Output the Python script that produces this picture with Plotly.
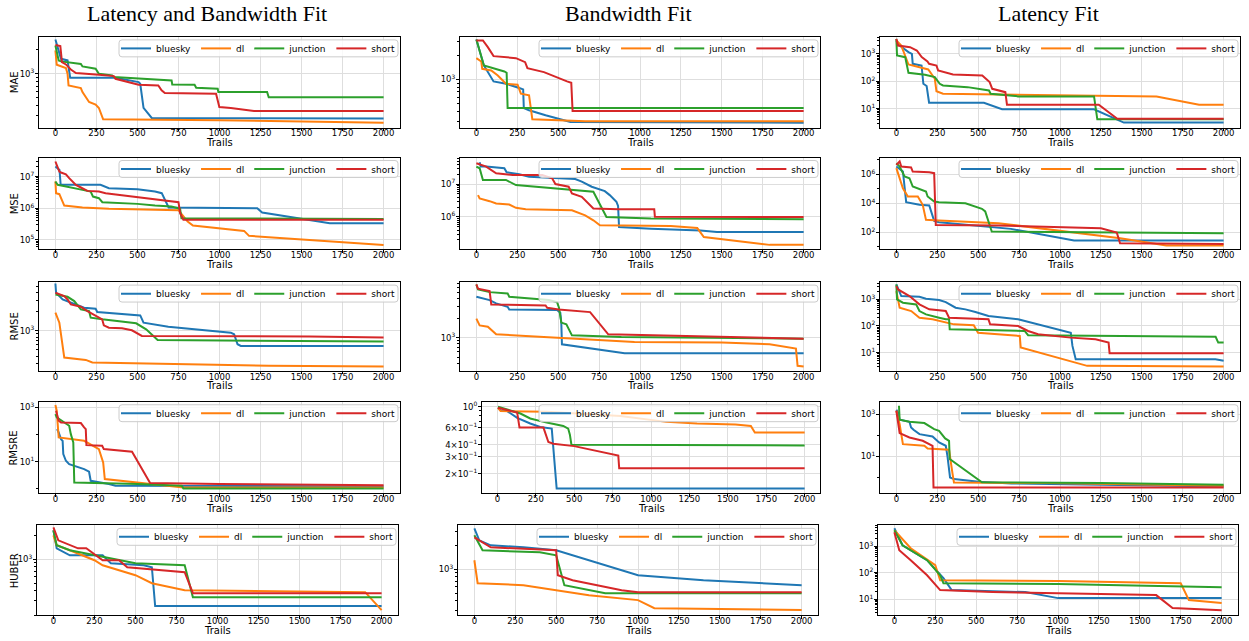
import math
import plotly.graph_objects as go

W, H = 1249, 641
SERIES = ["bluesky", "dl", "junction", "short"]
COLORS = {"bluesky": "#1f77b4", "dl": "#ff7f0e", "junction": "#2ca02c", "short": "#d62728"}
COL_TITLES = ["Latency and Bandwidth Fit", "Bandwidth Fit", "Latency Fit"]
METRICS = ["MAE", "MSE", "RMSE", "RMSRE", "HUBER"]
X_TICKS = [0, 250, 500, 750, 1000, 1250, 1500, 1750, 2000]

# ---------------- data (trial index, best-so-far loss) ----------------
LB_MAE = {
    "bluesky": ([0, 20, 34, 74, 90, 366, 507, 517, 537, 587, 2000],
                [2690, 1960, 1540, 1470, 891, 891, 787, 750, 373, 279, 274]),
    "dl": ([0, 8, 64, 74, 80, 155, 165, 205, 245, 265, 291, 1000, 2000],
           [1960, 1300, 1180, 1000, 715, 662, 590, 442, 410, 373, 269, 262, 244]),
    "junction": ([0, 20, 34, 64, 155, 165, 245, 265, 346, 356, 527, 708, 712, 848, 858, 989, 993, 1290, 1300, 2000],
                 [2260, 1470, 1430, 1400, 1330, 1235, 1155, 1000, 953, 908, 866, 825, 736, 729, 668, 649, 590, 590, 506, 506]),
    "short": ([0, 30, 40, 64, 94, 125, 265, 356, 366, 507, 627, 647, 667, 979, 999, 1069, 1210, 2000],
              [2300, 2220, 1400, 1310, 1130, 1020, 972, 935, 866, 729, 715, 619, 573, 562, 383, 373, 342, 342]),
}
B_MAE = {
    "bluesky": ([0, 46, 105, 181, 262, 286, 290, 322, 423, 575, 2000],
                [3162, 1496, 944, 883, 779, 750, 438, 410, 355, 293, 287]),
    "dl": ([0, 30, 36, 91, 131, 181, 252, 272, 322, 342, 665, 2000],
           [1848, 1679, 1359, 1296, 1122, 883, 858, 662, 631, 316, 299, 299]),
    "junction": ([0, 46, 171, 185, 191, 2000],
                 [3162, 1496, 1259, 1212, 438, 438]),
    "short": ([0, 40, 70, 105, 242, 298, 312, 413, 554, 580, 588, 2000],
              [3073, 3073, 2535, 1958, 1848, 1647, 1385, 1235, 944, 908, 402, 402]),
}
L_MAE = {
    "bluesky": ([0, 20, 74, 95, 100, 154, 165, 185, 200, 535, 646, 1208, 1390, 2000],
                [3055, 2009, 1150, 1000, 432, 376, 81, 67, 16.5, 16.5, 9.5, 9.5, 3.1, 3.1]),
    "dl": ([0, 30, 74, 195, 235, 245, 285, 1000, 1590, 1850, 2000],
           [3055, 2009, 409, 269, 123, 43, 35, 32, 28, 14, 14]),
    "junction": ([0, 4, 54, 74, 175, 235, 265, 285, 435, 495, 566, 576, 746, 1208, 1228, 2000],
                 [3510, 870, 757, 204, 172, 142, 81, 70, 61, 53, 46, 35, 28, 28, 4.1, 4.1]),
    "short": ([0, 10, 84, 125, 155, 190, 200, 245, 255, 346, 525, 546, 570, 586, 636, 666, 676, 1237, 1350, 2000],
              [3510, 2009, 1747, 1322, 757, 526, 432, 376, 248, 177, 163, 123, 93, 53, 46, 40, 14, 14, 4.3, 4.3]),
}
LB_MSE = {
    "bluesky": ([0, 25, 32, 275, 326, 500, 607, 648, 690, 1230, 1260, 1672, 2000],
                [2.07e7, 1.62e7, 5.46e6, 5.46e6, 4.29e6, 3.98e6, 3.36e6, 2.98e6, 1.05e6, 1.0e6, 7.3e5, 3.36e5, 3.36e5]),
    "dl": ([0, 4, 24, 54, 165, 265, 326, 750, 776, 806, 838, 1150, 1180, 2000],
           [6.95e6, 2.98e6, 2.77e6, 1.21e6, 1.05e6, 1.0e6, 9.53e5, 8.65e5, 5.87e5, 3.79e5, 2.84e5, 1.92e5, 1.34e5, 6.95e4]),
    "junction": ([0, 14, 165, 215, 229, 265, 286, 500, 607, 707, 730, 760, 768, 2000],
                 [6.95e6, 5.46e6, 3.79e6, 3.36e6, 2.33e6, 2.07e6, 1.55e6, 1.37e6, 1.21e6, 1.13e6, 1.05e6, 9.53e5, 4.83e5, 4.6e5]),
    "short": ([0, 14, 24, 34, 64, 84, 125, 155, 195, 265, 306, 467, 547, 648, 750, 760, 780, 2000],
              [2.98e7, 2.07e7, 1.44e7, 1.34e7, 1.18e7, 8.86e6, 5.46e6, 4.5e6, 3.52e6, 3.36e6, 2.98e6, 2.33e6, 2.07e6, 1.71e6, 1.55e6, 6.95e5, 4.28e5, 4.28e5]),
}
B_MSE = {
    "bluesky": ([20, 26, 60, 171, 185, 262, 322, 604, 644, 705, 785, 815, 856, 866, 872, 1067, 1370, 1470, 2000],
                [4.6e7, 3.4e7, 3.4e7, 3.02e7, 2.28e7, 1.98e7, 1.68e7, 1.42e7, 1.18e7, 8.28e6, 6.1e6, 4.61e6, 2.88e6, 2.17e6, 4.94e5, 4.39e5, 3.91e5, 3.48e5, 3.48e5]),
    "dl": ([10, 20, 81, 121, 201, 242, 302, 584, 665, 715, 755, 1188, 1350, 1390, 1792, 2000],
           [4.61e6, 3.64e6, 3.02e6, 2.56e6, 2.39e6, 1.89e6, 1.72e6, 1.6e6, 1.12e6, 7.91e5, 5.56e5, 5.3e5, 4.6e5, 2.45e5, 1.42e5, 1.42e5]),
    "junction": ([0, 20, 40, 181, 242, 463, 715, 795, 1067, 2000],
                 [3.4e7, 3.02e7, 1.33e7, 1.33e7, 9.32e6, 7.36e6, 5.82e6, 1.0e6, 9.0e5, 8.5e5]),
    "short": ([0, 60, 121, 222, 403, 463, 483, 564, 584, 644, 715, 866, 1087, 1091, 2000],
              [4.3e7, 3.4e7, 2.12e7, 1.89e7, 1.89e7, 1.49e7, 1.0e7, 8.28e6, 5.18e6, 4.1e6, 1.8e6, 1.72e6, 1.72e6, 1.02e6, 1.0e6]),
}
L_MSE = {
    "bluesky": ([0, 30, 40, 60, 141, 201, 231, 261, 503, 700, 1086, 2000],
                [3.4e6, 2.0e6, 1.53e6, 1.17e4, 7.7e3, 6.9e3, 605, 490, 288, 170, 26.6, 26.6]),
    "dl": ([0, 40, 70, 131, 161, 181, 261, 624, 1368, 1650, 2000],
           [2.6e6, 1.08e5, 2.9e4, 2.9e4, 7.7e3, 710, 640, 418, 38.5, 12, 12]),
    "junction": ([0, 20, 50, 80, 100, 131, 151, 181, 191, 231, 261, 422, 523, 543, 563, 583, 2000],
                 [5.7e6, 3.4e6, 6.9e5, 5.3e5, 1.41e5, 1.08e5, 8.3e4, 6.4e4, 2.9e4, 1.3e4, 1.17e4, 1.0e4, 4.1e3, 2.7e3, 545, 111, 85]),
    "short": ([0, 20, 30, 90, 100, 201, 231, 241, 624, 866, 1250, 1347, 1367, 2000],
              [4.4e6, 7.5e6, 3.4e6, 2.9e6, 1.53e6, 1.37e6, 1.17e6, 320, 288, 246, 189, 95, 17.4, 15.7]),
}
LB_RMSE = {
    "bluesky": ([0, 4, 44, 94, 175, 245, 255, 517, 537, 688, 1069, 1089, 1110, 1130, 2000],
                [5660, 4030, 3160, 2800, 2340, 2250, 1995, 1766, 1354, 1170, 941, 886, 616, 580, 580]),
    "dl": ([0, 14, 24, 54, 185, 225, 700, 1300, 2000],
           [1946, 1625, 1354, 379, 348, 316, 298, 280, 273]),
    "junction": ([0, 74, 115, 155, 205, 215, 285, 492, 553, 603, 623, 2000],
                 [3790, 3480, 2980, 2200, 2070, 1625, 1528, 1321, 1062, 785, 721, 679]),
    "short": ([0, 54, 74, 94, 155, 195, 285, 295, 326, 406, 466, 527, 1550, 2000],
              [4030, 3570, 3160, 2640, 2420, 2070, 1528, 1228, 1129, 1100, 1025, 834, 815, 785]),
}
B_RMSE = {
    "bluesky": ([0, 81, 121, 191, 201, 493, 513, 519, 523, 906, 2000],
                [4310, 3820, 3400, 3010, 2740, 2680, 2440, 1710, 789, 573, 573]),
    "dl": ([0, 20, 70, 121, 302, 604, 966, 1500, 1792, 1953, 1963, 2000],
           [1970, 1550, 1480, 1126, 1061, 965, 857, 837, 789, 676, 365, 356]),
    "junction": ([0, 10, 81, 191, 201, 262, 403, 443, 493, 505, 519, 550, 584, 886, 2000],
                 [6680, 5590, 5080, 4850, 4310, 4160, 3920, 3820, 3560, 2910, 1710, 1610, 1086, 1024, 965]),
    "short": ([0, 10, 81, 91, 423, 433, 503, 695, 806, 1200, 2000],
              [6680, 5730, 5270, 3270, 3160, 2910, 2740, 2490, 1126, 1061, 965]),
}
L_RMSE = {
    "bluesky": ([0, 20, 30, 141, 181, 261, 302, 362, 422, 483, 563, 744, 865, 1066, 1076, 1096, 1950, 2000],
                [3650, 2050, 1333, 1259, 1059, 944, 794, 487, 422, 335, 237, 178, 115, 56, 17.8, 5.6, 5.6, 4.9]),
    "dl": ([0, 20, 91, 141, 221, 302, 352, 473, 499, 754, 760, 1166, 2000],
           [2050, 487, 365, 205, 178, 133, 115, 106, 56, 42, 15.4, 3.16, 2.99]),
    "junction": ([0, 4, 40, 121, 141, 181, 261, 302, 322, 326, 784, 805, 1951, 1967, 2000],
                 [3650, 1000, 750, 649, 365, 274, 205, 178, 178, 75, 65, 45, 39, 23.7, 23.7]),
    "short": ([0, 10, 80, 141, 201, 302, 322, 563, 573, 744, 805, 866, 1066, 1217, 1297, 1303, 2000],
              [3160, 2370, 1333, 649, 422, 365, 205, 178, 115, 100, 65, 49, 36.5, 31.6, 23.7, 9.4, 9.4]),
}
LB_RMSRE = {
    "bluesky": ([10, 20, 34, 44, 48, 64, 84, 175, 205, 215, 326, 366, 2000],
                [159, 120, 68, 59, 19.2, 10.9, 8.2, 5.4, 4.3, 2.0, 1.51, 1.31, 1.24]),
    "dl": ([0, 8, 20, 175, 265, 291, 301, 500, 780, 2000],
           [1219, 754, 79, 59, 29.3, 9.45, 2.3, 1.73, 1.14, 1.14]),
    "junction": ([0, 8, 84, 94, 109, 115, 500, 770, 780, 2000],
                 [568, 428, 211, 104, 51.5, 1.73, 1.51, 1.31, 1.04, 1.04]),
    "short": ([4, 20, 34, 155, 175, 185, 189, 285, 295, 467, 577, 1000, 2000],
              [754, 323, 281, 265, 184, 159, 41, 38.8, 29.3, 23.3, 1.64, 1.51, 1.38]),
}
B_RMSRE = {
    "bluesky": ([4, 21, 64, 129, 214, 279, 354, 386, 2000],
                [0.971, 0.918, 0.897, 0.764, 0.667, 0.615, 0.591, 0.1415, 0.1415]),
    "dl": ([4, 21, 320, 560, 800, 1100, 1300, 1550, 1650, 1676, 2000],
           [0.971, 0.897, 0.882, 0.84, 0.80, 0.694, 0.667, 0.651, 0.630, 0.537, 0.537]),
    "junction": ([4, 75, 150, 214, 321, 429, 461, 472, 482, 2000],
                 [0.995, 0.918, 0.847, 0.752, 0.682, 0.630, 0.591, 0.511, 0.402, 0.395]),
    "short": ([4, 64, 129, 144, 300, 332, 364, 500, 787, 793, 2000],
              [0.971, 0.918, 0.868, 0.605, 0.605, 0.429, 0.412, 0.389, 0.311, 0.229, 0.229]),
}
L_RMSRE = {
    "bluesky": ([0, 10, 20, 80, 90, 105, 141, 221, 261, 302, 312, 328, 352, 503, 704, 1300, 2000],
                [1600, 1198, 540, 434, 235, 182, 113, 88, 46, 31.9, 10.7, 1.02, 0.85, 0.636, 0.53, 0.442, 0.383]),
    "dl": ([0, 10, 20, 40, 171, 191, 322, 342, 352, 930, 2000],
           [1437, 624, 337, 38, 31.9, 23.9, 20.6, 1.75, 0.591, 0.55, 0.411]),
    "junction": ([16, 20, 80, 171, 231, 261, 298, 322, 326, 523, 1250, 2000],
                 [2480, 540, 434, 376, 196, 163, 71, 55, 7.5, 0.6, 0.55, 0.458]),
    "short": ([0, 20, 80, 161, 221, 227, 2000],
              [1437, 127, 79, 55, 31.9, 0.343, 0.343]),
}
LB_HUBER = {
    "bluesky": ([0, 20, 100, 300, 350, 550, 600, 620, 2000],
                [2304, 1372, 1122, 1122, 891, 841, 794, 259, 259]),
    "dl": ([0, 20, 100, 250, 300, 500, 600, 800, 1900, 2000],
           [1995, 1496, 1296, 972, 841, 631, 501, 410, 387, 230]),
    "junction": ([0, 20, 100, 250, 500, 800, 850, 2000],
                 [2304, 1496, 1296, 1122, 891, 841, 335, 335]),
    "short": ([0, 30, 150, 200, 300, 400, 450, 800, 850, 2000],
              [2512, 1728, 1372, 1372, 972, 972, 794, 688, 376, 376]),
}
B_HUBER = {
    "bluesky": ([0, 30, 100, 300, 500, 700, 1000, 1400, 2000],
                [3254, 2304, 1995, 1884, 1728, 1296, 841, 729, 631]),
    "dl": ([0, 20, 300, 500, 700, 1000, 1100, 2000],
           [1296, 668, 631, 546, 473, 410, 325, 307]),
    "junction": ([0, 50, 400, 500, 550, 700, 800, 2000],
                 [2661, 1728, 1632, 1496, 631, 546, 501, 501]),
    "short": ([0, 100, 500, 510, 600, 900, 1000, 2000],
              [2512, 1884, 1728, 841, 729, 546, 516, 516]),
}
L_HUBER = {
    "bluesky": ([0, 50, 200, 300, 350, 800, 1000, 2000],
                [4775, 1090, 297, 62, 22, 18.4, 10.9, 10.9]),
    "dl": ([0, 100, 250, 280, 1000, 1750, 1800, 2000],
           [4015, 841, 192, 52, 48, 40, 9.2, 7.1]),
    "junction": ([0, 50, 200, 280, 300, 1000, 2000],
                 [4015, 1090, 297, 80, 40, 37, 28]),
    "short": ([0, 30, 100, 200, 280, 600, 1600, 1700, 2000],
              [3376, 707, 297, 80, 22, 18.4, 14.2, 4.6, 3.8]),
}

PANELS = [
    [LB_MAE, B_MAE, L_MAE],
    [LB_MSE, B_MSE, L_MSE],
    [LB_RMSE, B_RMSE, L_RMSE],
    [LB_RMSRE, B_RMSRE, L_RMSRE],
    [LB_HUBER, B_HUBER, L_HUBER],
]

# major y tick values per panel
Y_TICKS = [
    [[1e3], [1e3], [1e1, 1e2, 1e3]],
    [[1e5, 1e6, 1e7], [1e6, 1e7], [1e2, 1e4, 1e6]],
    [[1e3], [1e3], [1e1, 1e2, 1e3]],
    [[1e1, 1e3], [0.2, 0.3, 0.4, 0.6, 1.0], [1e1, 1e3]],
    [[1e3], [1e3], [1e1, 1e2, 1e3]],
]
RMSRE_B_TEXT = ["2×10<sup>−1</sup>", "3×10<sup>−1</sup>", "4×10<sup>−1</sup>", "6×10<sup>−1</sup>", "10<sup>0</sup>"]

# ---------------- layout geometry (pixels) ----------------
Y_RANGES = [
    [(2.325, 3.4625), (2.396, 3.533), (0.309, 3.618)],
    [(4.705, 7.6), (5.02, 7.806), (0.828, 7.149)],
    [(2.368, 3.774), (2.485, 3.861), (0.3125, 3.65)],
    [(-0.166, 3.209), (-0.901, 0.050), (-0.748, 3.583)],
    [(2.3, 3.425), (2.425, 3.55), (0.396, 3.79)],
]
ROWS_PX = [(35, 126), (156, 248), (281, 370), (401, 493), (525, 615)]
COLS_PX = [(39, 400), (460, 820), (880, 1240)]
COL_OVERRIDE = {(3, 1): (482, 820), (4, 0): (37, 398), (4, 1): (458, 818), (4, 2): (878, 1238)}
TITLE_X = [207, 628, 1048]

FONT = "DejaVu Sans"


def px(x):
    return x / W


def py(y):
    return 1 - y / H


def sup_text(v):
    e = int(round(math.log10(v)))
    return f"10<sup>{e}</sup>".replace("-", "−")


def minor_vals(lo, hi, stride2):
    vals = []
    for d in range(int(math.floor(lo)) - 1, int(math.ceil(hi)) + 1):
        if stride2:
            vals.append(10.0 ** d)
        else:
            for k in range(2, 10):
                vals.append(k * 10.0 ** d)
    return vals


def rounded_box(x0, y0, x1, y1, rad=3):
    return (f"M {px(x0 + rad)},{py(y0)} L {px(x1 - rad)},{py(y0)} "
            f"Q {px(x1)},{py(y0)} {px(x1)},{py(y0 + rad)} L {px(x1)},{py(y1 - rad)} "
            f"Q {px(x1)},{py(y1)} {px(x1 - rad)},{py(y1)} L {px(x0 + rad)},{py(y1)} "
            f"Q {px(x0)},{py(y1)} {px(x0)},{py(y1 - rad)} L {px(x0)},{py(y0 + rad)} "
            f"Q {px(x0)},{py(y0)} {px(x0 + rad)},{py(y0)} Z")


fig = go.Figure()
layout = dict(
    width=W, height=H, margin=dict(l=0, r=0, t=0, b=0),
    paper_bgcolor="white", plot_bgcolor="white",
    font=dict(family=FONT, size=9, color="black"),
    showlegend=True,
)
annotations = []
shapes = []

idx = 0
for r in range(5):
    for c in range(3):
        idx += 1
        suf = "" if idx == 1 else str(idx)
        xa, ya, lg = "x" + suf, "y" + suf, "legend" + suf
        data = PANELS[r][c]
        for s in SERIES:
            xs, ys = data[s]
            fig.add_trace(go.Scatter(
                x=xs, y=ys, mode="lines", name=s,
                line=dict(color=COLORS[s], width=2),
                xaxis=xa, yaxis=ya, legend=lg, hoverinfo="skip"))
        left, right = COL_OVERRIDE.get((r, c), COLS_PX[c])
        top, bot = ROWS_PX[r]
        lo, hi = Y_RANGES[r][c]
        ticks = Y_TICKS[r][c]
        if (r, c) == (3, 1):
            ttext = RMSRE_B_TEXT
            mvals = [0.5, 0.7, 0.8, 0.9]
        else:
            ttext = [sup_text(v) for v in ticks]
            stride2 = len(ticks) > 1 and abs(ticks[1] / ticks[0] - 100) < 1
            mvals = [v for v in minor_vals(lo, hi, stride2) if v not in ticks]
        layout["xaxis" + suf] = dict(
            domain=[px(left), px(right)], anchor=ya, range=[-100, 2100],
            tickmode="array", tickvals=X_TICKS, ticktext=[str(v) for v in X_TICKS],
            showline=True, mirror=True, linecolor="black", linewidth=1,
            ticks="outside", ticklen=2.5, tickwidth=0.8, tickcolor="black",
            ticklabelstandoff=-5,
            showgrid=True, gridcolor="#dedede", gridwidth=0.8, zeroline=False,
            tickfont=dict(family=FONT, size=8.5, color="black"),
        )
        layout["yaxis" + suf] = dict(
            domain=[py(bot), py(top)], anchor=xa, type="log", range=[lo, hi],
            tickmode="array", tickvals=ticks, ticktext=ttext,
            showline=True, mirror=True, linecolor="black", linewidth=1,
            ticks="outside", ticklen=3, tickwidth=0.8, tickcolor="black",
            ticklabelstandoff=-1,
            showgrid=True, gridcolor="#dedede", gridwidth=0.8, zeroline=False,
            tickfont=dict(family=FONT, size=8.5, color="black"),
            minor=dict(tickmode="array", tickvals=mvals, ticks="outside", ticklen=1.8,
                       tickwidth=0.6, tickcolor="black", showgrid=False),
        )
        # legend frame (rounded, semi-transparent) drawn under the legend entries
        shapes.append(dict(type="path", xref="paper", yref="paper", layer="above",
                           path=rounded_box(right - 281, top + 3, right - 2, top + 20),
                           fillcolor="rgba(255,255,255,0.8)",
                           line=dict(color="#cccccc", width=1)))
        layout[lg] = dict(
            orientation="h", x=px(right), y=py(top - 3),
            xanchor="right", yanchor="top",
            bgcolor="rgba(0,0,0,0)", borderwidth=0,
            font=dict(family=FONT, size=9, color="black"),
            itemwidth=30, tracegroupgap=0, itemclick=False, itemdoubleclick=False,
        )
        annotations.append(dict(
            text="Trails", xref="paper", yref="paper",
            x=px((left + right) / 2), y=py(bot + 15),
            xanchor="center", yanchor="middle", showarrow=False,
            font=dict(family=FONT, size=10, color="black")))
        if c == 0:
            annotations.append(dict(
                text=METRICS[r], xref="paper", yref="paper",
                x=px(14), y=py((top + bot) / 2), textangle=-90,
                xanchor="center", yanchor="middle", showarrow=False,
                font=dict(family=FONT, size=10, color="black")))

for c in range(3):
    annotations.append(dict(
        text=COL_TITLES[c], xref="paper", yref="paper",
        x=px(TITLE_X[c]), y=py(12), xanchor="center", yanchor="middle",
        showarrow=False, font=dict(family="Liberation Serif", size=22, color="black")))

layout["annotations"] = annotations
layout["shapes"] = shapes
fig.update_layout(**layout)
fig.write_html("out.html",
               config={"displayModeBar": False, "responsive": False},
               post_script="document.body.style.margin='0px';document.body.style.overflow='hidden';")
